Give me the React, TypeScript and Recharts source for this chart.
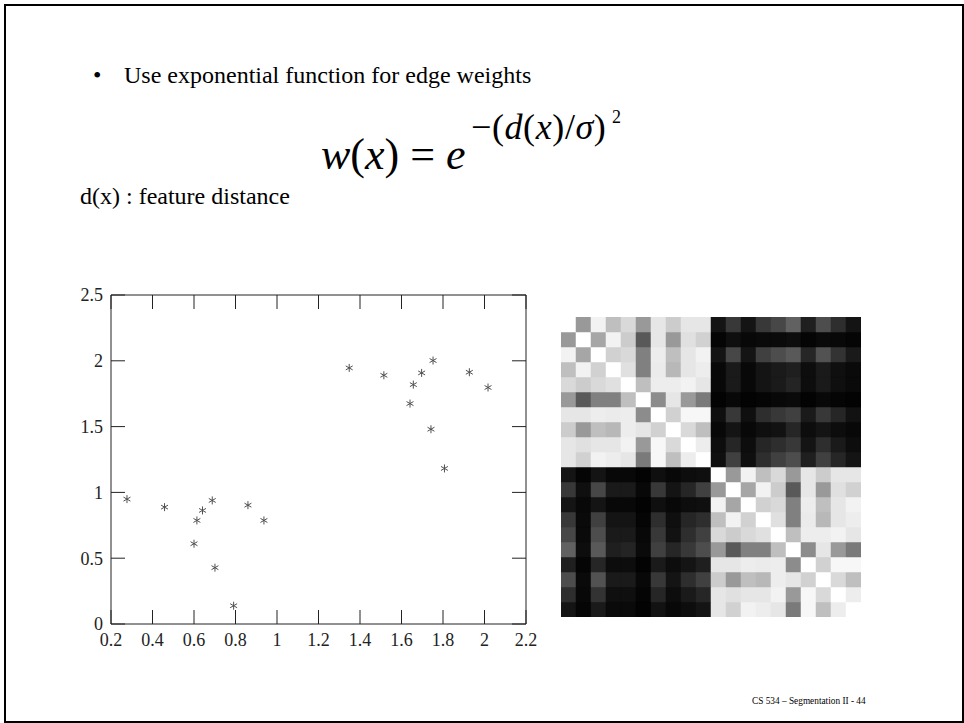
import React from 'react';
import { ScatterChart, Scatter, XAxis, YAxis, BarChart, Bar, Cell } from 'recharts';

// feature points (two clusters)
const X_VALUES = [
  0.277, 0.458, 0.614, 0.641, 0.688, 0.6, 0.701, 0.791, 0.86, 0.937,
  1.348, 1.515, 1.657, 1.641, 1.697, 1.752, 1.742, 1.807, 1.927, 2.017,
];
const Y_VALUES = [
  0.949, 0.888, 0.787, 0.863, 0.939, 0.61, 0.428, 0.139, 0.903, 0.787,
  1.946, 1.89, 1.819, 1.675, 1.908, 2.002, 1.48, 1.182, 1.913, 1.797,
];
const X_TICKS = [0.2, 0.4, 0.6, 0.8, 1, 1.2, 1.4, 1.6, 1.8, 2, 2.2];
const Y_TICKS = [0, 0.5, 1, 1.5, 2, 2.5];

// affinity matrix brightness (0 = black, 1 = white)
// same-cluster block (top-left and bottom-right look identical)
const WITHIN = [
  [1.0, 0.6, 0.95, 0.75, 0.85, 0.6, 0.9, 0.8, 0.9, 0.9],
  [0.6, 1.0, 0.65, 0.95, 0.8, 0.35, 0.9, 0.6, 0.88, 0.82],
  [0.95, 0.65, 1.0, 0.82, 0.85, 0.5, 0.93, 0.75, 0.9, 0.95],
  [0.75, 0.95, 0.82, 1.0, 0.88, 0.5, 0.92, 0.72, 0.9, 0.93],
  [0.85, 0.8, 0.85, 0.88, 1.0, 0.75, 0.93, 0.93, 0.95, 0.9],
  [0.6, 0.35, 0.5, 0.5, 0.75, 1.0, 0.55, 0.9, 0.6, 0.48],
  [0.9, 0.9, 0.93, 0.92, 0.93, 0.55, 1.0, 0.82, 0.97, 0.97],
  [0.8, 0.6, 0.75, 0.72, 0.93, 0.9, 0.82, 1.0, 0.85, 0.75],
  [0.9, 0.88, 0.9, 0.9, 0.95, 0.6, 0.97, 0.85, 1.0, 0.93],
  [0.9, 0.82, 0.95, 0.93, 0.9, 0.48, 0.97, 0.75, 0.93, 1.0],
];
// cross-cluster block (top-right); bottom-left is its transpose
const BETWEEN = [
  [0.08, 0.22, 0.08, 0.22, 0.28, 0.38, 0.12, 0.3, 0.18, 0.08],
  [0.02, 0.06, 0.03, 0.04, 0.04, 0.05, 0.02, 0.04, 0.03, 0.02],
  [0.08, 0.28, 0.08, 0.25, 0.3, 0.35, 0.15, 0.32, 0.2, 0.1],
  [0.03, 0.1, 0.03, 0.08, 0.1, 0.12, 0.05, 0.1, 0.06, 0.04],
  [0.03, 0.1, 0.03, 0.08, 0.1, 0.14, 0.05, 0.1, 0.06, 0.04],
  [0.01, 0.03, 0.01, 0.02, 0.03, 0.04, 0.01, 0.03, 0.02, 0.01],
  [0.06, 0.22, 0.06, 0.18, 0.22, 0.25, 0.1, 0.22, 0.15, 0.07],
  [0.03, 0.08, 0.03, 0.06, 0.07, 0.15, 0.05, 0.08, 0.05, 0.03],
  [0.05, 0.15, 0.05, 0.15, 0.18, 0.22, 0.08, 0.18, 0.1, 0.05],
  [0.06, 0.25, 0.06, 0.18, 0.25, 0.3, 0.12, 0.25, 0.15, 0.08],
];

const N = 20;
const HALF = 10;
const MATRIX: number[][] = Array.from({ length: N }, (_, r) =>
  Array.from({ length: N }, (_, c) => {
    const ra = r < HALF, ca = c < HALF;
    if (ra === ca) return WITHIN[r % HALF][c % HALF];
    return ra ? BETWEEN[r][c - HALF] : BETWEEN[c][r - HALF];
  })
);

const points = X_VALUES.map((x, i) => ({ x, y: Y_VALUES[i] }));

// one entry per column, each row stacked as a unit block
const columns = Array.from({ length: N }, (_, c) => {
  const row: Record<string, number> = { col: c };
  for (let k = 0; k < N; k++) row[`s${k}`] = 1;
  return row;
});

const gray = (v: number) => {
  const g = Math.round(v * 255);
  return `rgb(${g},${g},${g})`;
};

const SERIF = 'Liberation Serif, Times New Roman, serif';

const Asterisk = (props: any) => {
  const { cx, cy } = props;
  const r = 4;
  const dx = r * Math.cos(Math.PI / 6);
  const dy = r * Math.sin(Math.PI / 6);
  return (
    <g stroke="#505050" strokeWidth={1}>
      <line x1={cx} y1={cy - r} x2={cx} y2={cy + r} />
      <line x1={cx - dx} y1={cy - dy} x2={cx + dx} y2={cy + dy} />
      <line x1={cx - dx} y1={cy + dy} x2={cx + dx} y2={cy - dy} />
    </g>
  );
};

const NoLabel = () => <g />;

const tickStyle = { fontFamily: SERIF, fontSize: 18, fill: '#222' };

export default function App() {
  return (
    <div style={{ position: 'absolute', left: 0, top: 0, width: 964, height: 723, background: '#fff', overflow: 'hidden' }}>
      <svg width={964} height={723} style={{ position: 'absolute', left: 0, top: 0 }}>
        <rect x={5} y={5} width={958} height={717} fill="none" stroke="#000" strokeWidth={2} />
        <text x={93} y={83} fontFamily={SERIF} fontSize={24} fill="#000">•</text>
        <text x={124} y={83} fontFamily={SERIF} fontSize={24} fill="#000">
          Use exponential function for edge weights
        </text>
        <text x={321} y={169} fontFamily={SERIF} fontSize={44} fill="#000">
          <tspan fontStyle="italic">w</tspan>(<tspan fontStyle="italic">x</tspan>) = <tspan fontStyle="italic">e</tspan>
        </text>
        <text x={471} y={139} fontFamily={SERIF} fontSize={36} letterSpacing={0.6} fill="#000">
          −(<tspan fontStyle="italic">d</tspan>(<tspan fontStyle="italic">x</tspan>)/<tspan fontStyle="italic">σ</tspan>)
        </text>
        <text x={612} y={123} fontFamily={SERIF} fontSize={18} fill="#000">2</text>
        <text x={80} y={204} fontFamily={SERIF} fontSize={24} fill="#000">
          d(x) : feature distance
        </text>
        <text x={752} y={704} fontFamily={SERIF} fontSize={9.3} fill="#000">
          CS 534 – Segmentation II - 44
        </text>
      </svg>

      <div style={{ position: 'absolute', left: 50, top: 270 }}>
        <ScatterChart width={500} height={400} margin={{ top: 20, right: 19, bottom: 16, left: 11 }}>
          <XAxis
            xAxisId="b"
            type="number"
            dataKey="x"
            domain={[0.2, 2.2]}
            ticks={X_TICKS}
            interval={0}
            allowDataOverflow
            height={30}
            tickSize={-14}
            tickMargin={23}
            stroke="#222"
            tick={tickStyle}
          />
          <XAxis
            xAxisId="t"
            orientation="top"
            type="number"
            dataKey="x"
            domain={[0.2, 2.2]}
            ticks={X_TICKS}
            interval={0}
            allowDataOverflow
            height={5}
            tickSize={-14}
            stroke="#222"
            tick={NoLabel}
          />
          <YAxis
            yAxisId="l"
            type="number"
            dataKey="y"
            domain={[0, 2.5]}
            ticks={Y_TICKS}
            interval={0}
            allowDataOverflow
            width={50}
            tickSize={-14}
            tickMargin={22}
            stroke="#222"
            tick={tickStyle}
          />
          <YAxis
            yAxisId="r"
            orientation="right"
            type="number"
            dataKey="y"
            domain={[0, 2.5]}
            ticks={Y_TICKS}
            interval={0}
            allowDataOverflow
            width={5}
            tickSize={-14}
            stroke="#222"
            tick={NoLabel}
          />
          <Scatter data={points} xAxisId="b" yAxisId="l" shape={<Asterisk />} isAnimationActive={false} />
          <Scatter data={points} xAxisId="t" yAxisId="r" shape={() => <g />} isAnimationActive={false} />
        </ScatterChart>
      </div>

      <div style={{ position: 'absolute', left: 561, top: 317 }}>
        <BarChart width={300} height={300} data={columns} margin={{ top: 0, right: 0, bottom: 0, left: 0 }} barCategoryGap={0} barGap={0}>
          <XAxis dataKey="col" type="category" hide />
          <YAxis type="number" domain={[0, N]} hide />
          {Array.from({ length: N }, (_, k) => {
            const row = N - 1 - k;
            return (
              <Bar key={k} dataKey={`s${k}`} stackId="m" isAnimationActive={false}>
                {columns.map((_, c) => (
                  <Cell key={c} fill={gray(MATRIX[row][c])} stroke={gray(MATRIX[row][c])} strokeWidth={0.5} />
                ))}
              </Bar>
            );
          })}
        </BarChart>
      </div>
    </div>
  );
}
